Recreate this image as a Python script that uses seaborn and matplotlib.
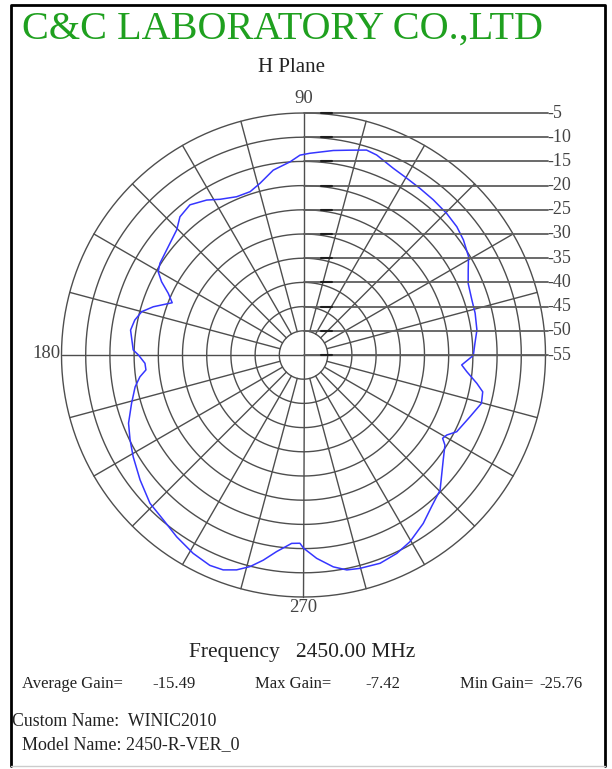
import numpy as np
import pandas as pd
import matplotlib
matplotlib.use("Agg")
import matplotlib.pyplot as plt
import seaborn as sns
from matplotlib.lines import Line2D

# H plane pattern (angle in degrees, gain in dB)
angles = [0, 3.9, 8.2, 13.7, 18.1, 23.5, 27.3, 30.8, 35.7, 39.9, 44.7, 50.1, 55.1, 59.7,
          64.3, 69.9, 72.9, 77.2, 81.7, 88.2, 91.0, 94.0, 99.3, 104.2, 108.1, 112.9,
          118.2, 122.0, 127.1, 131.8, 135.4, 141.3, 147.4, 150.2, 152.7, 155.5, 158.3,
          162.2, 165.0, 168.3, 171.8, 178.3, 180.0, 183.0, 185.4, 187.6, 190.7, 195.7,
          201.3, 206.1, 210.9, 217.4, 224.0, 229.6, 235.1, 240.9, 246.0, 249.5, 252.7,
          255.8, 258.9, 262.2, 266.4, 268.9, 270.0, 273.7, 278.0, 281.4, 284.8, 290.2,
          295.2, 299.7, 305.4, 310.2, 315.3, 323.1, 327.5, 329.1, 330.8, 333.4, 339.7,
          344.8, 348.4, 350.7, 354.2, 356.4, 359.4]
gains = [-19.9, -19.5, -18.8, -18.5, -18.4, -17.9, -16.7, -15.3, -14.3, -13.7, -13.4, -13.2,
         -13.0, -12.7, -12.2, -11.0, -10.7, -11.6, -12.3, -13.3, -13.7, -15.0, -16.3, -18.4,
         -19.5, -19.5, -18.5, -17.25, -16.1, -16.7, -18.2, -19.2, -19.8, -20.4, -22.0, -24.3,
         -25.8, -22.4, -20.4, -19.4, -18.9, -19.8, -20.9, -22.2, -22.3, -20.9, -19.6, -18.1,
         -16.2, -15.1, -14.0, -12.5, -10.9, -10.3, -9.2, -8.1, -7.42, -7.6, -8.5, -9.9, -11.8,
         -14.0, -16.0, -16.1, -15.1, -12.9, -10.8, -9.7, -9.4, -9.15, -9.7, -10.6, -12.3,
         -14.0, -15.3, -18.9, -20.35, -21.5, -21.1, -19.6, -18.3, -16.9, -17.2, -18.7,
         -21.1, -22.25, -20.25]

levels = [-55, -50, -45, -40, -35, -30, -25, -20, -15, -10, -5]
angle_labels = {90: "90", 180: "180", 270: "270"}

title = "C&C LABORATORY CO.,LTD"
plane = "H Plane"
freq = "Frequency   2450.00 MHz"
avg_gain, max_gain, min_gain = "-15.49", "-7.42", "-25.76"
custom_name = "WINIC2010"
model_name = "2450-R-VER_0"

sns.set_style("white")
plt.rcParams['font.family'] = ['Liberation Serif', 'DejaVu Serif']

W, H = 612, 769
fig = plt.figure(figsize=(W / 100, H / 100), dpi=100)


def fx(x):
    return x / W


def fy(y):
    return 1 - y / H


cx, cy, R = 303.5, 355, 242
ax = fig.add_axes([fx(cx - R), fy(cy + R), 2 * R / W, 2 * R / H], projection='polar')

gridc = '#4e4e4e'
th = np.linspace(0, 2 * np.pi, 721)
for lv in levels[1:]:
    ax.plot(th, np.full_like(th, lv), color=gridc, lw=1.0, clip_on=False)
for a in range(0, 360, 15):
    t = np.deg2rad(a)
    r0 = -55 if a % 90 == 0 else -50
    ax.plot([t, t], [r0, -5], color=gridc, lw=1.0, clip_on=False)

df = pd.DataFrame({'theta': np.deg2rad(angles + [angles[0]]),
                   'gain': gains + [gains[0]]})
sns.lineplot(data=df, x='theta', y='gain', sort=False, estimator=None,
             color='#3636ff', lw=1.1, ax=ax)

ax.set_ylim(-55, -5)
ax.set_theta_zero_location('E')
ax.grid(False)
ax.set_xticks([])
ax.set_yticks([])
ax.set_xlabel('')
ax.set_ylabel('')
ax.spines['polar'].set_visible(False)

# horizontal level lines to the right scale
inv = fig.transFigure.inverted()
for lv in levels:
    x0, y0 = inv.transform(ax.transData.transform((np.pi / 2, lv)))
    fig.add_artist(Line2D([x0, fx(548)], [y0, y0], color='#5e5e5e', lw=1.3,
                          transform=fig.transFigure))
    fig.add_artist(Line2D([fx(321), fx(332)], [y0, y0], color='#1e1e1e', lw=1.5,
                          transform=fig.transFigure))
    fig.text(fx(547), y0, str(lv), fontsize=13, color='#444444', ha='left', va='center')

# angle labels
for a, lab in angle_labels.items():
    x0, y0 = inv.transform(ax.transData.transform((np.deg2rad(a), -5)))
    if a == 90:
        fig.text(x0, y0 + 14 / H, lab, fontsize=13.5, color='#444444', ha='center', va='center')
    elif a == 270:
        fig.text(x0, y0 - 11 / H, lab, fontsize=13.5, color='#444444', ha='center', va='center')
    else:
        fig.text(x0 - 1 / W, y0 + 2 / H, lab, fontsize=13.5, color='#444444', ha='right', va='center')

fig.text(fx(22), fy(29), title, fontsize=29, color='#1fa01f', ha='left', va='center')
fig.text(fx(291), fy(67), plane, fontsize=15, color='#222222', ha='center', va='center')
fig.text(fx(302), fy(652), freq, fontsize=15.5, color='#222222', ha='center', va='center')

fig.text(fx(22), fy(684), "Average Gain=", fontsize=12, color='#222222', va='center')
fig.text(fx(196), fy(684), avg_gain, fontsize=12, color='#222222', va='center', ha='right')
fig.text(fx(255), fy(684), "Max Gain=", fontsize=12, color='#222222', va='center')
fig.text(fx(400), fy(684), max_gain, fontsize=12, color='#222222', va='center', ha='right')
fig.text(fx(460), fy(684), "Min Gain=", fontsize=12, color='#222222', va='center')
fig.text(fx(583), fy(684), min_gain, fontsize=12, color='#222222', va='center', ha='right')
fig.text(fx(12), fy(721), "Custom Name:  " + custom_name, fontsize=12.8, color='#222222', va='center')
fig.text(fx(22), fy(745), "Model Name: " + model_name, fontsize=13, color='#222222', va='center')

# frame
fig.add_artist(Line2D([fx(11), fx(11), fx(605), fx(605)], [fy(766), fy(5), fy(5), fy(766)],
                      color='black', lw=2, transform=fig.transFigure))
fig.add_artist(Line2D([fx(11), fx(605)], [fy(766), fy(766)], color='#cccccc', lw=1,
                      transform=fig.transFigure))

fig.savefig('out.png', dpi=100)
